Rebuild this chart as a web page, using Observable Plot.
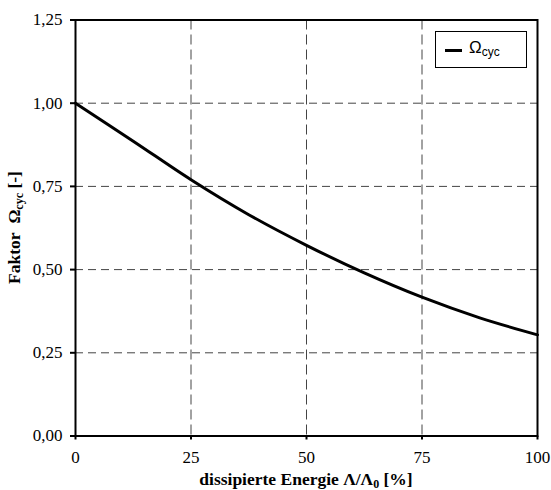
<!DOCTYPE html>
<html>
<head>
<meta charset="utf-8">
<script src="https://cdn.jsdelivr.net/npm/d3@7"></script>
<script src="https://cdn.jsdelivr.net/npm/@observablehq/plot@0.6"></script>
<style>
  body { margin: 0; background: #fff; }
  #wrap { position: relative; width: 551px; height: 490px; }
  .legend {
    position: absolute; left: 435px; top: 31px; width: 92px; height: 37px;
    border: 1px solid #000; background: #fff; box-sizing: border-box;
    font-family: "Liberation Sans", Arial, sans-serif;
  }
  .legend .swatch { position: absolute; left: 9px; top: 16.5px; width: 17px; height: 3px; background: #000; }
  .legend .lab { position: absolute; left: 33px; top: 6px; font-size: 17px; line-height: 20px; color: #000; }
  .legend .lab sub { font-size: 12px; vertical-align: -3px; }
</style>
</head>
<body>
<div id="wrap"></div>
<script>
// Data
const energy = [0, 12.5, 25, 37.5, 50, 62.5, 75, 87.5, 100];
const omegaCyc = [1.000, 0.886, 0.770, 0.665, 0.573, 0.490, 0.417, 0.355, 0.304];
const xTicks = [0, 25, 50, 75, 100];
const yTicks = [0, 0.25, 0.5, 0.75, 1.0, 1.25];
const xGrid = [25, 50, 75];
const yGrid = [0.25, 0.5, 0.75, 1.0];
const seriesName = "Ω";
const seriesSub = "cyc";

const data = energy.map((x, i) => ({x, y: omegaCyc[i]}));

const W = 551, H = 490, mL = 75, mR = 14, mT = 19.5, mB = 54.5;
const fmt = d => d.toFixed(2).replace(".", ",");

const chart = Plot.plot({
  width: W, height: H,
  marginLeft: mL, marginRight: mR, marginTop: mT, marginBottom: mB,
  style: {fontFamily: "'Liberation Serif', 'Times New Roman', serif", fontSize: "17px", color: "black", background: "white", overflow: "visible"},
  x: {domain: [0, 100], label: null},
  y: {domain: [0, 1.25], label: null},
  marks: [
    Plot.gridY(yGrid, {stroke: "#444", strokeOpacity: 1, strokeWidth: 1, strokeDasharray: "8,5"}),
    Plot.gridX(xGrid, {stroke: "#444", strokeOpacity: 1, strokeWidth: 1, strokeDasharray: "10,5"}),
    Plot.axisX(xTicks, {tickSize: 4, tickPadding: 11, stroke: "black", strokeWidth: 2, label: null, fontSize: 17}),
    Plot.axisY(yTicks, {tickSize: 5, tickPadding: 8, stroke: "black", strokeWidth: 2, label: null, tickFormat: fmt, fontSize: 17}),
    Plot.frame({stroke: "black", strokeWidth: 2}),
    Plot.line(data, {x: "x", y: "y", stroke: "black", strokeWidth: 3, curve: "catmull-rom"})
  ]
});

const svg = d3.select(chart);
// X axis title
const xt = svg.append("text")
  .attr("x", (mL + W - mR) / 2).attr("y", 485)
  .attr("text-anchor", "middle")
  .attr("font-family", "'Liberation Serif', serif").attr("font-size", 17.5).attr("font-weight", "bold")
  .attr("fill", "black");
xt.append("tspan").text("dissipierte Energie Λ/Λ");
xt.append("tspan").attr("font-size", 12).attr("dy", 3).text("0");
xt.append("tspan").attr("dy", -3).text(" [%]");

// Y axis title
const yt = svg.append("text")
  .attr("transform", `translate(20,${(mT + H - mB) / 2}) rotate(-90)`)
  .attr("text-anchor", "middle")
  .attr("font-family", "'Liberation Serif', serif").attr("font-size", 17.5).attr("font-weight", "bold")
  .attr("fill", "black");
yt.append("tspan").text("Faktor\u00a0\u00a0Ω");
yt.append("tspan").attr("font-size", 12).attr("dy", 3).text("cyc");
yt.append("tspan").attr("dy", -3).text(" [-]");

const wrap = document.getElementById("wrap");
wrap.appendChild(chart);
const leg = document.createElement("div");
leg.className = "legend";
leg.innerHTML = `<div class="swatch"></div><div class="lab">${seriesName}<sub>${seriesSub}</sub></div>`;
wrap.appendChild(leg);
</script>
</body>
</html>
